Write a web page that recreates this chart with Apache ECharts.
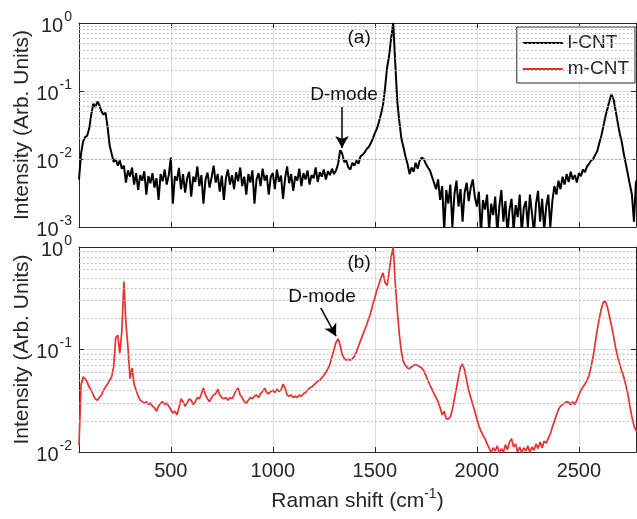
<!DOCTYPE html>
<html>
<head>
<meta charset="utf-8">
<script src="https://cdn.jsdelivr.net/npm/echarts@6/dist/echarts.min.js"></script>
<style>html,body{margin:0;padding:0;background:#fff;}#c{width:637px;height:519px;}</style>
</head>
<body>
<div id="c"></div>
<script>
// Raman shift (cm^-1)
const ramanShift = [
50,60,70,80,90,100,110,120,130,140,150,160,170,180,190,200,210,220,230,240,
250,260,270,280,290,300,310,320,330,340,350,360,370,380,390,400,410,420,430,440,
450,460,470,480,490,500,510,520,530,540,550,560,570,580,590,600,610,620,630,640,
650,660,670,680,690,700,710,720,730,740,750,760,770,780,790,800,810,820,830,840,
850,860,870,880,890,900,910,920,930,940,950,960,970,980,990,1000,1010,1020,1030,1040,
1050,1060,1070,1080,1090,1100,1110,1120,1130,1140,1150,1160,1170,1180,1190,1200,1210,1220,1230,1240,
1250,1260,1270,1280,1290,1300,1310,1320,1330,1340,1350,1360,1370,1380,1390,1400,1410,1420,1430,1440,
1450,1460,1470,1480,1490,1500,1510,1520,1530,1540,1550,1560,1570,1580,1590,1600,1610,1620,1630,1640,
1650,1660,1670,1680,1690,1700,1710,1720,1730,1740,1750,1760,1770,1780,1790,1800,1810,1820,1830,1840,
1850,1860,1870,1880,1890,1900,1910,1920,1930,1940,1950,1960,1970,1980,1990,2000,2010,2020,2030,2040,
2050,2060,2070,2080,2090,2100,2110,2120,2130,2140,2150,2160,2170,2180,2190,2200,2210,2220,2230,2240,
2250,2260,2270,2280,2290,2300,2310,2320,2330,2340,2350,2360,2370,2380,2390,2400,2410,2420,2430,2440,
2450,2460,2470,2480,2490,2500,2510,2520,2530,2540,2550,2560,2570,2580,2590,2600,2610,2620,2630,2640,
2650,2660,2670,2680,2690,2700,2710,2720,2730,2740,2750,2760,2770,2780,2790
];

// (a) l-CNT intensity
const lCNT = [
0.005,0.012,0.018,0.021,0.022,0.028,0.045,0.065,0.058,0.070,0.062,0.050,0.045,0.048,0.030,0.016,0.012,0.009,0.010,0.008,
0.0095,0.0072,0.0080,0.0045,0.0068,0.0055,0.0075,0.0042,0.0062,0.0035,0.0058,0.0048,0.0066,0.0030,0.0056,0.0044,0.0062,0.0038,0.0052,0.0025,
0.0060,0.0047,0.0070,0.0042,0.0058,0.0105,0.0022,0.0056,0.0048,0.0074,0.0036,0.0060,0.0032,0.0052,0.0065,0.0028,0.0055,0.0046,0.0078,0.0040,
0.0058,0.0022,0.0050,0.0063,0.0038,0.0054,0.0080,0.0045,0.0060,0.0033,0.0057,0.0025,0.0052,0.0070,0.0042,0.0058,0.0036,0.0064,0.0047,0.0075,
0.0040,0.0055,0.0030,0.0060,0.0045,0.0068,0.0022,0.0050,0.0062,0.0040,0.0072,0.0048,0.0058,0.0030,0.0055,0.0062,0.0036,0.0070,0.0046,0.0057,
0.0026,0.0052,0.0078,0.0044,0.0060,0.0034,0.0056,0.0048,0.0072,0.0040,0.0062,0.0050,0.0068,0.0042,0.0058,0.0052,0.0075,0.0046,0.0064,0.0055,
0.0070,0.0050,0.0066,0.0058,0.0072,0.0060,0.0068,0.0085,0.0135,0.0120,0.0090,0.0095,0.0075,0.0070,0.0088,0.0080,0.0095,0.0085,0.0110,0.0115,
0.0125,0.0140,0.0150,0.0170,0.0200,0.0240,0.0280,0.0350,0.0460,0.0620,0.110,0.220,0.330,0.600,1.0,0.260,0.070,0.036,0.020,0.015,
0.011,0.0085,0.0060,0.0075,0.0065,0.0088,0.0072,0.0095,0.0105,0.0100,0.0085,0.0075,0.0068,0.0055,0.0045,0.0036,0.0050,0.0025,0.0040,0.0009,
0.0035,0.0022,0.0042,0.0010,0.0030,0.0048,0.0020,0.0036,0.0012,0.0032,0.0045,0.0024,0.0038,0.0050,0.0028,0.0020,0.0033,0.0008,0.0025,0.0018,
0.0030,0.0009,0.0022,0.0015,0.0028,0.0008,0.0020,0.0035,0.0012,0.0024,0.0008,0.0018,0.0026,0.0009,0.0021,0.0014,0.0030,0.0008,0.0019,0.0024,
0.0010,0.0030,0.0016,0.0008,0.0022,0.0034,0.0012,0.0026,0.0009,0.0020,0.0030,0.0010,0.0024,0.0040,0.0030,0.0048,0.0036,0.0055,0.0042,0.0060,
0.0046,0.0065,0.0050,0.0058,0.0045,0.0062,0.0056,0.0070,0.0064,0.0078,0.0085,0.0095,0.0100,0.0115,0.0130,0.0170,0.0220,0.0300,0.0420,0.0550,
0.0720,0.0900,0.0750,0.0520,0.0350,0.0240,0.0180,0.0120,0.0085,0.0060,0.0042,0.0030,0.0012,0.0048,0.0035
];

// (b) m-CNT intensity
const mCNT = [
0.0117,0.045,0.054,0.052,0.048,0.043,0.040,0.036,0.033,0.032,0.034,0.036,0.040,0.043,0.046,0.050,0.054,0.068,0.130,0.138,
0.092,0.150,0.460,0.180,0.105,0.052,0.066,0.046,0.040,0.035,0.032,0.031,0.030,0.031,0.029,0.030,0.028,0.027,0.025,0.028,
0.030,0.031,0.029,0.030,0.028,0.026,0.024,0.025,0.023,0.027,0.033,0.031,0.028,0.030,0.033,0.032,0.029,0.031,0.034,0.033,
0.037,0.042,0.036,0.033,0.031,0.034,0.036,0.037,0.041,0.036,0.034,0.033,0.034,0.032,0.034,0.033,0.036,0.040,0.042,0.036,
0.034,0.031,0.030,0.032,0.034,0.033,0.035,0.036,0.034,0.037,0.039,0.042,0.038,0.037,0.039,0.040,0.038,0.041,0.039,0.040,
0.046,0.042,0.036,0.035,0.036,0.034,0.035,0.034,0.036,0.035,0.037,0.038,0.040,0.042,0.043,0.045,0.047,0.049,0.050,0.053,
0.056,0.060,0.065,0.072,0.085,0.100,0.118,0.127,0.110,0.089,0.082,0.079,0.080,0.079,0.081,0.086,0.095,0.108,0.122,0.138,
0.155,0.175,0.200,0.230,0.275,0.320,0.380,0.430,0.500,0.560,0.450,0.420,0.580,0.800,1.0,0.450,0.240,0.140,0.095,0.076,
0.070,0.066,0.065,0.068,0.070,0.071,0.070,0.068,0.066,0.062,0.056,0.050,0.045,0.041,0.037,0.034,0.031,0.027,0.023,0.025,
0.021,0.021,0.022,0.026,0.033,0.042,0.054,0.068,0.072,0.063,0.050,0.040,0.034,0.029,0.025,0.021,0.018,0.016,0.0145,0.0135,
0.012,0.011,0.0098,0.011,0.0102,0.0115,0.0098,0.0108,0.0100,0.0118,0.0105,0.0125,0.0135,0.0112,0.0120,0.0100,0.0112,0.0098,0.0110,0.0102,
0.0115,0.0099,0.0112,0.0104,0.0120,0.0108,0.0125,0.0110,0.0128,0.0122,0.0136,0.0150,0.0175,0.0200,0.0230,0.0260,0.0280,0.0290,0.0300,0.0310,
0.0305,0.0290,0.0310,0.0290,0.0320,0.0360,0.0400,0.0430,0.0460,0.0500,0.0560,0.0680,0.0860,0.1150,0.1550,0.2000,0.2500,0.2900,0.2950,0.2600,
0.2100,0.1700,0.1350,0.1050,0.0850,0.0720,0.0620,0.0540,0.0450,0.0370,0.0280,0.0220,0.0180,0.0162,0.0160
];

const seriesNames = ['l-CNT', 'm-CNT'];
const yTitle = 'Intensity (Arb. Units)';
const minorGridTop = [0.002,0.003,0.004,0.005,0.006,0.007,0.008,0.009,0.02,0.03,0.04,0.05,0.06,0.07,0.08,0.09,0.2,0.3,0.4,0.5,0.6,0.7,0.8,0.9];
const minorGridBottom = [0.02,0.03,0.04,0.05,0.06,0.07,0.08,0.09,0.2,0.3,0.4,0.5,0.6,0.7,0.8,0.9];

const FONT = 'Liberation Sans, Arial, Helvetica, sans-serif';
const INK = '#262626';
const RED = '#e8302f';

const pairs = (ys) => ramanShift.map((x, i) => [x, ys[i]]);

const xCommon = (gridIndex, showLabels, pos) => ({
  type: 'value', gridIndex, position: pos, min: 50, max: 2780, splitNumber: 5,
  axisLine: { show: true, onZero: false, lineStyle: { color: INK, width: 1 } },
  axisTick: { show: true, inside: true, length: 5, lineStyle: { color: INK } },
  axisLabel: {
    show: showLabels, color: INK, fontFamily: FONT, fontSize: 20, margin: 9,
    showMinLabel: false, showMaxLabel: false,
    formatter: v => (v % 500 === 0 ? String(v) : '')
  },
  splitLine: { show: pos === 'bottom', lineStyle: { color: '#dedede', width: 1 } }
});

const yFmt = v => {
  const e = Math.round(Math.log10(v));
  return '{b|10}{s|' + e + '}';
};

const yCommon = (gridIndex, min, pos) => ({
  type: 'log', logBase: 10, gridIndex, position: pos, min, max: 1,
  axisLine: { show: true, onZero: false, lineStyle: { color: INK, width: 1 } },
  axisTick: { show: true, inside: true, length: 5, lineStyle: { color: INK } },
  axisLabel: {
    show: pos === 'left', margin: 7, formatter: yFmt,
    rich: {
      b: { fontSize: 20, fontFamily: FONT, color: INK, lineHeight: 26, verticalAlign: 'bottom' },
      s: { fontSize: 14, fontFamily: FONT, color: INK, lineHeight: 26, verticalAlign: 'top', padding: [0, 0, 0, 1] }
    }
  },
  splitLine: { show: pos === 'left', lineStyle: { color: '#dedede', width: 1 } },
  name: pos === 'left' ? yTitle : '',
  nameLocation: 'middle', nameGap: 46, nameMoveOverlap: false,
  nameTextStyle: { fontSize: 21, fontFamily: FONT, color: INK }
});

const textMark = (coord, text) => ({
  coord, symbol: 'rect', symbolSize: 1, itemStyle: { color: 'rgba(0,0,0,0)' },
  label: { show: true, position: 'inside', formatter: text, fontSize: 19, fontFamily: FONT, color: '#111' }
});

const option = {
  animation: false,
  backgroundColor: '#ffffff',
  grid: [
    { left: 79, right: 1, top: 23, height: 204, outerBoundsMode: 'none' },
    { left: 79, right: 1, top: 247, height: 205, outerBoundsMode: 'none' }
  ],
  legend: {
    data: seriesNames, orient: 'vertical', right: 2, top: 27,
    icon: 'rect', itemWidth: 40, itemHeight: 2, itemGap: 4,
    backgroundColor: '#ffffff', borderColor: INK, borderWidth: 1,
    padding: [5, 6, 3, 6],
    textStyle: { fontSize: 19, fontFamily: FONT, color: INK, lineHeight: 22 }
  },
  xAxis: [
    xCommon(0, false, 'bottom'),
    xCommon(0, false, 'top'),
    Object.assign(xCommon(1, true, 'bottom'), {
      name: 'Raman shift (cm{s|-1})', nameLocation: 'middle', nameGap: 35, nameMoveOverlap: false,
      nameTextStyle: {
        fontSize: 21, fontFamily: FONT, color: INK,
        rich: { s: { fontSize: 14, fontFamily: FONT, color: INK, verticalAlign: 'top', lineHeight: 28 } }
      }
    }),
    xCommon(1, false, 'top')
  ],
  yAxis: [
    yCommon(0, 0.001, 'left'),
    yCommon(0, 0.001, 'right'),
    yCommon(1, 0.01, 'left'),
    yCommon(1, 0.01, 'right')
  ],
  series: [
    {
      name: 'minorTop', type: 'line', xAxisIndex: 0, yAxisIndex: 0, data: [], silent: true, z: 1,
      markLine: {
        silent: true, symbol: ['none', 'none'], label: { show: false },
        lineStyle: { color: '#b5b5b5', type: [1.5, 2.5], width: 1 },
        data: minorGridTop.map(v => ({ yAxis: v }))
      }
    },
    {
      name: 'minorBottom', type: 'line', xAxisIndex: 2, yAxisIndex: 2, data: [], silent: true, z: 1,
      markLine: {
        silent: true, symbol: ['none', 'none'], label: { show: false },
        lineStyle: { color: '#b5b5b5', type: [1.5, 2.5], width: 1 },
        data: minorGridBottom.map(v => ({ yAxis: v }))
      }
    },
    {
      name: seriesNames[0], type: 'line', xAxisIndex: 0, yAxisIndex: 0, data: pairs(lCNT),
      symbol: 'none', z: 3, clip: true,
      lineStyle: { color: '#000000', width: 2 }, itemStyle: { color: '#000000' },
      markLine: {
        silent: true, symbol: ['none', 'arrow'], symbolSize: [10, 12], label: { show: false },
        lineStyle: { color: '#000', width: 1.5, type: 'solid' },
        data: [[{ coord: [1339, 0.058] }, { coord: [1339, 0.0145] }]]
      },
      markPoint: {
        silent: true,
        data: [textMark([1349, 0.088], 'D-mode'), textMark([1423, 0.60], '(a)')]
      }
    },
    {
      name: seriesNames[1], type: 'line', xAxisIndex: 2, yAxisIndex: 2, data: pairs(mCNT),
      symbol: 'none', z: 3, clip: true,
      lineStyle: { color: RED, width: 1.7 }, itemStyle: { color: RED },
      markLine: {
        silent: true, symbol: ['none', 'arrow'], symbolSize: [10, 12], label: { show: false },
        lineStyle: { color: '#000', width: 1.5, type: 'solid' },
        data: [[{ coord: [1235, 0.255] }, { coord: [1310, 0.135] }]]
      },
      markPoint: {
        silent: true,
        data: [textMark([1241, 0.33], 'D-mode'), textMark([1423, 0.70], '(b)')]
      }
    }
  ]
};

const chart = echarts.init(document.getElementById('c'), null, { renderer: 'canvas' });
chart.setOption(option);
</script>
</body>
</html>
